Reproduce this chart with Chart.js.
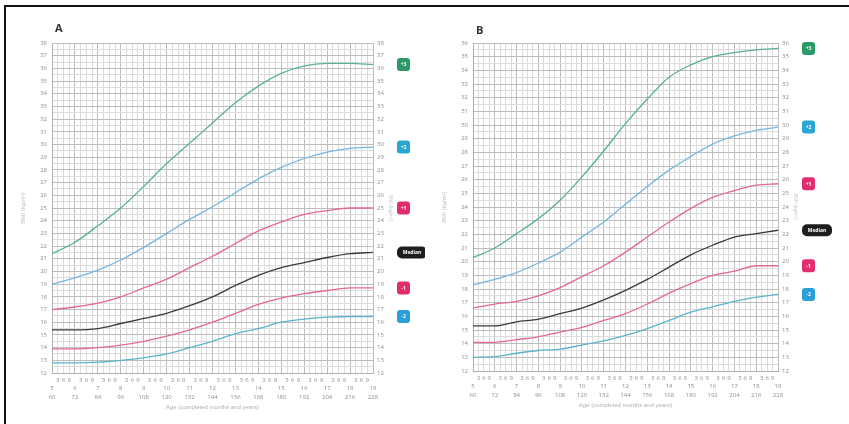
<!DOCTYPE html>
<html>
<head>
<meta charset="utf-8">
<script src="https://cdn.jsdelivr.net/npm/chart.js@4/dist/chart.umd.min.js"></script>
<style>
  html, body { margin: 0; padding: 0; background: #fff; }
  body { width: 849px; height: 424px; position: relative; overflow: hidden; font-family: "Open Sans", "DejaVu Sans", sans-serif; }
  .frame { position: absolute; left: 4px; top: 5px; right: 0; bottom: 0; border-top: 2px solid #111; border-left: 2px solid #111; }
  .box { position: absolute; top: 0; height: 424px; }
  .panel-label { position: absolute; font-weight: bold; font-size: 11px; color: #333; }
</style>
</head>
<body>
<div class="frame"></div>
<div class="box" style="left:0;width:425px"><canvas id="chartA" width="425" height="424"></canvas></div>
<div class="box" style="left:425px;width:424px"><canvas id="chartB" width="424" height="424"></canvas></div>
<div class="panel-label" style="left:55px;top:20px">A</div>
<div class="panel-label" style="left:476px;top:22px">B</div>
<script>
// 年龄（岁）
const ages = [5, 6, 7, 8, 9, 10, 11, 12, 13, 14, 15, 16, 17, 18, 19];

// A: 女孩 BMI 曲线（Z 分数）
const girlsSD3  = [21.4, 22.3, 23.6, 25.0, 26.7, 28.5, 30.1, 31.7, 33.3, 34.6, 35.6, 36.2, 36.4, 36.4, 36.3];
const girlsSD2  = [19.0, 19.5, 20.1, 20.9, 21.9, 23.0, 24.1, 25.1, 26.2, 27.3, 28.2, 28.9, 29.4, 29.7, 29.8];
const girlsSD1  = [17.0, 17.2, 17.5, 18.0, 18.7, 19.4, 20.3, 21.2, 22.2, 23.2, 23.9, 24.5, 24.8, 25.0, 25.0];
const girlsSD0  = [15.4, 15.4, 15.5, 15.9, 16.3, 16.7, 17.3, 18.0, 18.9, 19.7, 20.3, 20.7, 21.1, 21.4, 21.5];
const girlsSDm1 = [13.9, 13.9, 14.0, 14.2, 14.5, 14.9, 15.4, 16.0, 16.7, 17.4, 17.9, 18.25, 18.5, 18.7, 18.7];
const girlsSDm2 = [12.8, 12.8, 12.85, 13.0, 13.2, 13.5, 14.0, 14.5, 15.1, 15.5, 16.0, 16.25, 16.4, 16.45, 16.45];

// B: 男孩 BMI 曲线（Z 分数）
const boysSD3  = [20.3, 21.0, 22.05, 23.15, 24.5, 26.2, 28.1, 30.1, 31.9, 33.5, 34.4, 35.0, 35.3, 35.5, 35.6];
const boysSD2  = [18.3, 18.7, 19.2, 19.9, 20.7, 21.8, 22.9, 24.2, 25.5, 26.7, 27.7, 28.6, 29.2, 29.6, 29.85];
const boysSD1  = [16.6, 16.9, 17.1, 17.5, 18.1, 18.9, 19.7, 20.7, 21.8, 22.9, 23.9, 24.7, 25.2, 25.6, 25.7];
const boysSD0  = [15.3, 15.3, 15.6, 15.8, 16.2, 16.6, 17.2, 17.9, 18.7, 19.6, 20.5, 21.2, 21.8, 22.05, 22.3];
const boysSDm1 = [14.1, 14.1, 14.3, 14.5, 14.85, 15.2, 15.7, 16.2, 16.9, 17.7, 18.4, 19.0, 19.3, 19.7, 19.7];
const boysSDm2 = [13.0, 13.05, 13.3, 13.5, 13.6, 13.9, 14.2, 14.6, 15.1, 15.7, 16.3, 16.7, 17.1, 17.4, 17.6];

// 曲线标签与颜色
const curveLabels = ['+3', '+2', '+1', 'Median', '-1', '-2'];
const lineColors  = ['#58b28c', '#74b6e0', '#e3679a', '#3a3a3a', '#e3679a', '#5cb3cc'];
const badgeColors = ['#2b9a66', '#2aa6d2', '#df2d6e', '#1e1e1e', '#df2d6e', '#2a9fd8'];

const yTitle = 'BMI (kg/m²)';
const xTitle = 'Age (completed months and years)';

// 右侧标签插件
const badgePlugin = {
    id: 'badges',
    afterDraw(chart) {
        const ctx = chart.ctx;
        const area = chart.chartArea;
        const yScale = chart.scales.y;
        chart.data.datasets.forEach((ds, i) => {
            const last = ds.data[ds.data.length - 1];
            const py = yScale.getPixelForValue(last.y);
            const wide = curveLabels[i].length > 2;
            const w = wide ? 30 : 13;
            const h = wide ? 12 : 13;
            const x = area.right + 24;
            ctx.save();
            ctx.fillStyle = badgeColors[i];
            ctx.beginPath();
            ctx.roundRect(x, py - h / 2, w, h, wide ? 5 : 3);
            ctx.fill();
            ctx.fillStyle = '#fff';
            ctx.font = 'bold 5px "Open Sans", sans-serif';
            ctx.textAlign = 'center';
            ctx.textBaseline = 'middle';
            ctx.fillText(curveLabels[i], x + w / 2, py + 0.5);
            ctx.restore();
        });
    }
};

function makeChart(id, series, yMax, padding) {
    const tickFont = { size: 6, family: '"Open Sans", sans-serif', lineHeight: 1.4 };
    return new Chart(document.getElementById(id), {
        type: 'line',
        data: {
            datasets: series.map((arr, i) => ({
                label: curveLabels[i],
                data: ages.map((a, j) => ({ x: a, y: arr[j] })),
                borderColor: lineColors[i],
                borderWidth: 1.3,
                pointRadius: 0,
                fill: false,
                cubicInterpolationMode: 'monotone'
            }))
        },
        options: {
            responsive: false,
            animation: false,
            layout: { padding: padding },
            plugins: { legend: { display: false }, tooltip: { enabled: false } },
            scales: {
                x: {
                    type: 'linear',
                    min: 5,
                    max: 19,
                    afterFit: s => { s.height = 40; },
                    ticks: {
                        stepSize: 0.25,
                        autoSkip: false,
                        maxRotation: 0,
                        padding: 3,
                        color: '#8f8f8f',
                        font: tickFont,
                        callback: v => {
                            if (Math.abs(v - Math.round(v)) < 1e-6) {
                                return ['', String(Math.round(v)), String(Math.round(v) * 12)];
                            }
                            return String(Math.round((v % 1) * 12));
                        }
                    },
                    grid: {
                        drawTicks: false,
                        color: c => (Math.abs(c.tick.value % 1) < 1e-6 ? '#bdbdbd' : '#dcdcdc'),
                        lineWidth: 1
                    },
                    border: { color: '#b0b0b0' },
                    title: { display: true, text: xTitle, color: '#b0b0b0', font: { size: 6 }, padding: { top: 0, bottom: 2 } }
                },
                y: {
                    min: 12,
                    max: yMax,
                    afterFit: s => { s.width = 32; },
                    ticks: {
                        stepSize: 0.5,
                        autoSkip: false,
                        padding: 5,
                        color: '#8f8f8f',
                        font: { size: 6, family: '"Open Sans", sans-serif' },
                        callback: v => (v % 1 === 0 ? String(v) : '')
                    },
                    grid: {
                        drawTicks: false,
                        color: c => (c.tick.value % 1 === 0 ? '#bdbdbd' : '#dcdcdc'),
                        lineWidth: 1
                    },
                    border: { color: '#b0b0b0' },
                    title: { display: true, text: yTitle, color: '#c0c0c0', font: { size: 6 }, padding: { top: 0, bottom: 4 } }
                },
                y2: {
                    position: 'right',
                    min: 12,
                    max: yMax,
                    afterFit: s => { s.width = 20; },
                    ticks: {
                        stepSize: 1,
                        padding: 4,
                        color: '#8f8f8f',
                        font: { size: 6, family: '"Open Sans", sans-serif' }
                    },
                    grid: { display: false, drawTicks: false },
                    border: { display: false },
                    title: { display: true, text: yTitle, color: '#c8c8c8', font: { size: 5 }, padding: 0 }
                }
            }
        },
        plugins: [badgePlugin]
    });
}

makeChart('chartA', [girlsSD3, girlsSD2, girlsSD1, girlsSD0, girlsSDm1, girlsSDm2], 38,
    { left: 20, top: 43, right: 32, bottom: 11 });
makeChart('chartB', [boysSD3, boysSD2, boysSD1, boysSD0, boysSDm1, boysSDm2], 36,
    { left: 16, top: 43, right: 51, bottom: 13 });
</script>
</body>
</html>
